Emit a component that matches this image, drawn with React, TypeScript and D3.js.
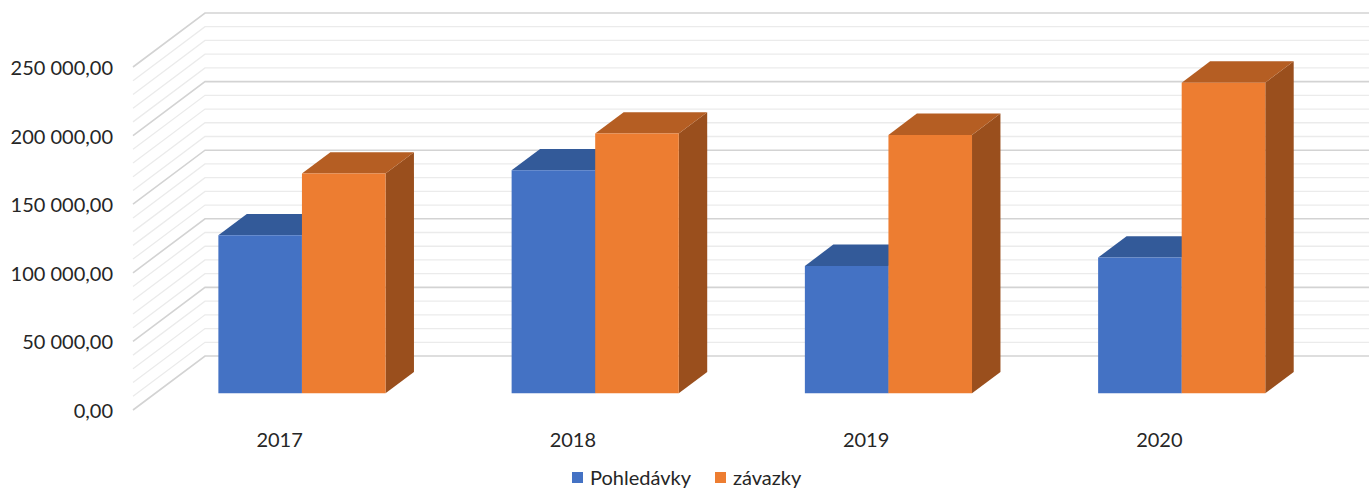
import React, { useEffect, useRef } from "react";
import * as d3 from "d3";

// data
const years = ["2017", "2018", "2019", "2020"];
const seriesNames = ["Pohledávky", "závazky"];
const pohledavky = [115200, 162500, 92800, 98900];
const zavazky = [160100, 189300, 188300, 226400];
const yTicks = [0, 50000, 100000, 150000, 200000, 250000];

const faceColors: Record<string, { front: string; top: string; side: string }> = {
  "Pohledávky": { front: "#4472C4", top: "#335A99", side: "#2B4C85" },
  "závazky": { front: "#ED7D31", top: "#B55E23", side: "#9A4F1D" },
};

const czech = d3.formatLocale({ decimal: ",", thousands: " ", grouping: [3], currency: ["", ""] });
const fmt = czech.format(",.2f");

const App = () => {
  const ref = useRef<SVGSVGElement>(null);

  useEffect(() => {
    const width = 1369;
    const height = 491;
    const DX = 72; // depth offset of the 3d box
    const DY = 54;
    const z0 = 0.31; // bars front / back depth (fraction of floor depth)
    const z1 = 0.705;
    const font = "Lato, 'Open Sans', sans-serif";
    const fs = 20;

    const svg = d3.select(ref.current).attr("width", width).attr("height", height);
    svg.selectAll("*").remove();

    const x0 = d3.scaleBand().domain(years).range([133, 1306]);
    const bw = x0.bandwidth();
    const x1 = d3.scaleBand().domain(seriesNames).range([bw * 0.215, bw * 0.785]);
    const y = d3.scaleLinear().domain([0, 250000]).range([410, 67]);

    const P = (x: number, v: number, z: number) => [x + z * DX, y(v) - z * DY];

    // walls: left side diagonals + back wall horizontals
    const minor = d3.range(0, 250001, 10000);
    const grid = svg.append("g");
    minor.forEach(t => {
      const major = t % 50000 === 0;
      const a = P(133, t, 0);
      const b = P(133, t, 1);
      const c = P(1306, t, 1);
      grid.append("path")
        .attr("d", `M${a[0]},${a[1]}L${b[0]},${b[1]}L${c[0]},${c[1]}`)
        .attr("fill", "none")
        .attr("stroke", major ? "#D3D3D3" : "#EBEBEB")
        .attr("stroke-width", major ? 1.6 : 1.3);
    });

    // y axis labels
    svg.append("g").selectAll("text").data(yTicks).join("text")
      .attr("x", 113).attr("y", d => y(d) + 8)
      .attr("text-anchor", "end")
      .attr("font-family", font).attr("font-size", fs).attr("fill", "#262626")
      .text(d => fmt(d));

    // bars
    const values: Record<string, number[]> = { "Pohledávky": pohledavky, "závazky": zavazky };
    const bars = svg.append("g");
    const poly = (pts: number[][]) => "M" + pts.map(p => p.join(",")).join("L") + "Z";
    years.forEach((yr, i) => {
      seriesNames.forEach(s => {
        const v = values[s][i];
        const xl = (x0(yr) as number) + (x1(s) as number);
        const xr = xl + x1.bandwidth();
        const col = faceColors[s];
        bars.append("path").attr("fill", col.side)
          .attr("d", poly([P(xr, 0, z0), P(xr, 0, z1), P(xr, v, z1), P(xr, v, z0)]));
        bars.append("path").attr("fill", col.top)
          .attr("d", poly([P(xl, v, z0), P(xr, v, z0), P(xr, v, z1), P(xl, v, z1)]));
        bars.append("path").attr("fill", col.front)
          .attr("d", poly([P(xl, 0, z0), P(xr, 0, z0), P(xr, v, z0), P(xl, v, z0)]));
      });
    });

    // category labels on the front edge
    svg.append("g").selectAll("text").data(years).join("text")
      .attr("x", d => (x0(d) as number) + bw / 2)
      .attr("y", 447)
      .attr("text-anchor", "middle")
      .attr("font-family", font).attr("font-size", fs).attr("fill", "#262626")
      .text(d => d);

    // legend
    const legendX = [572, 715];
    const legend = svg.append("g").selectAll("g").data(seriesNames).join("g")
      .attr("transform", (d, i) => `translate(${legendX[i]},472)`);
    legend.append("rect").attr("width", 11).attr("height", 11).attr("fill", d => faceColors[d].front);
    legend.append("text").attr("x", 18).attr("y", 13)
      .attr("font-family", font).attr("font-size", fs).attr("fill", "#262626")
      .text(d => d);
  }, []);

  return <svg ref={ref} style={{ position: "absolute", left: 0, top: 0, display: "block", background: "#fff" }}></svg>;
};

export default App;
